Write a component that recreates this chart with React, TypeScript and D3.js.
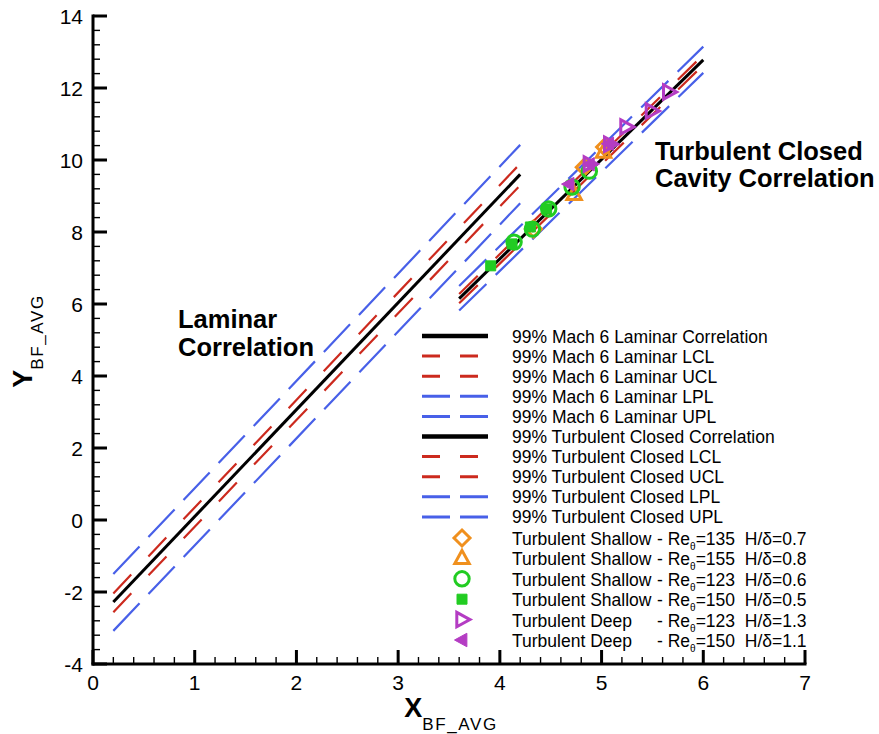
import React from 'react';
import * as d3 from 'd3';

// ---- axis ticks ----
const xTicks = [0, 1, 2, 3, 4, 5, 6, 7];
const yTicks = [-4, -2, 0, 2, 4, 6, 8, 10, 12, 14];

// ---- correlation / interval lines (endpoints) ----
const laminarX = [0.2, 4.2];
const laminarCorr = [-2.28, 9.6];
const laminarLCL = [-2.56, 9.3];
const laminarUCL = [-2.04, 9.9];
const laminarLPL = [-3.08, 8.8];
const laminarUPL = [-1.5, 10.42];

const turbX = [3.6, 6.0];
const turbCorr = [6.15, 12.78];
const turbLCL = [6.02, 12.64];
const turbUCL = [6.28, 12.92];
const turbLPL = [5.82, 12.42];
const turbUPL = [6.5, 13.15];

// ---- data points ----
const shallow135X = [4.33, 4.83, 5.03];
const shallow135Y = [8.08, 9.8, 10.36];
const shallow155X = [4.73, 5.02];
const shallow155Y = [9.05, 10.22];
const shallow123X = [4.14, 4.32, 4.48, 4.71, 4.88];
const shallow123Y = [7.72, 8.08, 8.64, 9.25, 9.69];
const shallow150X = [3.91, 4.12, 4.3, 4.46];
const shallow150Y = [7.06, 7.67, 8.14, 8.64];
const deep123X = [4.88, 5.08, 5.24, 5.49, 5.66];
const deep123Y = [9.89, 10.44, 10.92, 11.36, 11.89];
const deep150X = [4.68, 4.88, 5.07];
const deep150Y = [9.33, 9.88, 10.45];

// ---- legend labels ----
const lineLabels = [
  '99% Mach 6 Laminar Correlation',
  '99% Mach 6 Laminar LCL',
  '99% Mach 6 Laminar UCL',
  '99% Mach 6 Laminar LPL',
  '99% Mach 6 Laminar UPL',
  '99% Turbulent Closed Correlation',
  '99% Turbulent Closed LCL',
  '99% Turbulent Closed UCL',
  '99% Turbulent Closed LPL',
  '99% Turbulent Closed UPL',
];
const pointNames = [
  'Turbulent Shallow',
  'Turbulent Shallow',
  'Turbulent Shallow',
  'Turbulent Shallow',
  'Turbulent Deep',
  'Turbulent Deep',
];
const pointRe = ['135', '155', '123', '150', '123', '150'];
const pointH = ['0.7', '0.8', '0.6', '0.5', '1.3', '1.1'];

const BLACK = '#000000';
const RED = '#cc2a1e';
const BLUE = '#4860e8';
const ORANGE = '#f0901e';
const GREEN = '#22cc22';
const PURPLE = '#b43cc3';
const FONT = '"Liberation Sans", Arial, Helvetica, sans-serif';

type Kind = 'corr' | 'cl' | 'pl';
const lineStyle = (k: Kind, legend: boolean) => {
  if (k === 'corr') return { stroke: BLACK, width: legend ? 4.5 : 3, dash: undefined as string | undefined };
  if (k === 'cl') return { stroke: RED, width: 2.2, dash: legend ? '18,20' : '26,25' };
  return { stroke: BLUE, width: 2.2, dash: legend ? '28,10' : '38,13' };
};

const lineSeries: { xs: number[]; ys: number[]; kind: Kind }[] = [
  { xs: laminarX, ys: laminarLPL, kind: 'pl' },
  { xs: laminarX, ys: laminarUPL, kind: 'pl' },
  { xs: laminarX, ys: laminarLCL, kind: 'cl' },
  { xs: laminarX, ys: laminarUCL, kind: 'cl' },
  { xs: laminarX, ys: laminarCorr, kind: 'corr' },
  { xs: turbX, ys: turbLPL, kind: 'pl' },
  { xs: turbX, ys: turbUPL, kind: 'pl' },
  { xs: turbX, ys: turbLCL, kind: 'cl' },
  { xs: turbX, ys: turbUCL, kind: 'cl' },
  { xs: turbX, ys: turbCorr, kind: 'corr' },
];
const legendKinds: Kind[] = ['corr', 'cl', 'cl', 'pl', 'pl', 'corr', 'cl', 'cl', 'pl', 'pl'];

type Shape = 'diamond' | 'triUp' | 'circle' | 'square' | 'triRight' | 'triLeft';
const markerPath = (s: Shape, cx: number, cy: number): string => {
  switch (s) {
    case 'diamond': {
      const r = 8;
      return `M${cx},${cy - r}L${cx + r},${cy}L${cx},${cy + r}L${cx - r},${cy}Z`;
    }
    case 'triUp': {
      const r = 8;
      return `M${cx},${cy - r}L${cx + r * 0.9},${cy + r * 0.65}L${cx - r * 0.9},${cy + r * 0.65}Z`;
    }
    case 'square': {
      const h = 5;
      return `M${cx - h},${cy - h}h${2 * h}v${2 * h}h${-2 * h}Z`;
    }
    case 'triRight': {
      const r = 8;
      return `M${cx + r},${cy}L${cx - r * 0.65},${cy - r * 0.9}L${cx - r * 0.65},${cy + r * 0.9}Z`;
    }
    case 'triLeft': {
      const r = 7.5;
      return `M${cx - r},${cy}L${cx + r * 0.65},${cy - r * 0.9}L${cx + r * 0.65},${cy + r * 0.9}Z`;
    }
    default:
      return '';
  }
};

const pointSeries: { xs: number[]; ys: number[]; shape: Shape; color: string; filled: boolean }[] = [
  { xs: shallow135X, ys: shallow135Y, shape: 'diamond', color: ORANGE, filled: false },
  { xs: shallow155X, ys: shallow155Y, shape: 'triUp', color: ORANGE, filled: false },
  { xs: shallow123X, ys: shallow123Y, shape: 'circle', color: GREEN, filled: false },
  { xs: shallow150X, ys: shallow150Y, shape: 'square', color: GREEN, filled: true },
  { xs: deep123X, ys: deep123Y, shape: 'triRight', color: PURPLE, filled: false },
  { xs: deep150X, ys: deep150Y, shape: 'triLeft', color: PURPLE, filled: true },
];

const Marker = ({ shape, cx, cy, color, filled }: { shape: Shape; cx: number; cy: number; color: string; filled: boolean }) => {
  if (shape === 'circle') {
    return <circle cx={cx} cy={cy} r={7.2} fill="none" stroke={color} strokeWidth={3} />;
  }
  return (
    <path
      d={markerPath(shape, cx, cy)}
      fill={filled ? color : 'none'}
      stroke={color}
      strokeWidth={filled ? 1 : 3}
      strokeLinejoin="miter"
    />
  );
};

export default function App() {
  const W = 879;
  const H = 734;
  const x = d3.scaleLinear().domain([0, 7]).range([93, 805]);
  const y = d3.scaleLinear().domain([-4, 14]).range([664, 16]);

  const line = d3
    .line<[number, number]>()
    .x((d) => x(d[0]))
    .y((d) => y(d[1]));

  const xMinor = d3.range(0, 7.0001, 0.2).filter((v) => Math.abs(v - Math.round(v)) > 1e-6);
  const yMinor = d3.range(-4, 14.0001, 0.4).filter((v) => Math.abs(v / 2 - Math.round(v / 2)) > 1e-6);

  const legX0 = 422;
  const legX1 = 488;
  const legText = 512;
  const legY0 = 336;
  const legDy = 20.1;
  const mY0 = 538;
  const mDy = 20.4;
  const mX = 462;

  return (
    <svg
      width={W}
      height={H}
      viewBox={`0 0 ${W} ${H}`}
      style={{ position: 'absolute', left: 0, top: 0, background: '#fff' }}
      fontFamily={FONT}
    >
      <rect x={0} y={0} width={W} height={H} fill="#fff" />

      {/* plot lines */}
      {lineSeries.map((s, i) => {
        const st = lineStyle(s.kind, false);
        const pts = s.xs.map((xv, j) => [xv, s.ys[j]] as [number, number]);
        return (
          <path
            key={'l' + i}
            d={line(pts) || ''}
            fill="none"
            stroke={st.stroke}
            strokeWidth={st.width}
            strokeDasharray={st.dash}
          />
        );
      })}

      {/* data markers */}
      {pointSeries.map((s, i) =>
        s.xs.map((xv, j) => (
          <Marker key={`m${i}-${j}`} shape={s.shape} cx={x(xv)} cy={y(s.ys[j])} color={s.color} filled={s.filled} />
        ))
      )}

      {/* axes */}
      <line x1={x(0)} y1={y(-4) + 1.5} x2={x(0)} y2={y(14) - 1.5} stroke="#000" strokeWidth={3} />
      <line x1={x(0) - 1.5} y1={y(-4)} x2={x(7) + 1.5} y2={y(-4)} stroke="#000" strokeWidth={3} />
      {xTicks.map((t) => (
        <line key={'xt' + t} x1={x(t)} x2={x(t)} y1={y(-4)} y2={y(-4) - 14} stroke="#000" strokeWidth={3} />
      ))}
      {xMinor.map((t, i) => (
        <line key={'xm' + i} x1={x(t)} x2={x(t)} y1={y(-4)} y2={y(-4) - 7} stroke="#000" strokeWidth={1.4} />
      ))}
      {yTicks.map((t) => (
        <line key={'yt' + t} x1={x(0)} x2={x(0) + 14} y1={y(t)} y2={y(t)} stroke="#000" strokeWidth={3} />
      ))}
      {yMinor.map((t, i) => (
        <line key={'ym' + i} x1={x(0)} x2={x(0) + 7} y1={y(t)} y2={y(t)} stroke="#000" strokeWidth={1.4} />
      ))}

      {/* tick labels */}
      {xTicks.map((t) => (
        <text key={'xl' + t} x={x(t)} y={690} fontSize={21} textAnchor="middle" fill="#000">
          {t}
        </text>
      ))}
      {yTicks.map((t) => (
        <text key={'yl' + t} x={83} y={y(t) + 7.5} fontSize={21} textAnchor="end" fill="#000">
          {t}
        </text>
      ))}

      {/* axis titles */}
      <text x={451} y={717} textAnchor="middle" fill="#000">
        <tspan fontSize={27} fontWeight="bold">X</tspan>
        <tspan fontSize={17} dy={13} letterSpacing={1.6}>BF_AVG</tspan>
      </text>
      <text transform={`translate(32,341) rotate(-90)`} textAnchor="middle" fill="#000">
        <tspan fontSize={27} fontWeight="bold">Y</tspan>
        <tspan fontSize={17} dy={11} letterSpacing={1.6}>BF_AVG</tspan>
      </text>

      {/* annotations */}
      <text x={178} y={328} fontSize={25.5} fontWeight="bold" fill="#000">Laminar</text>
      <text x={178} y={356} fontSize={25.5} fontWeight="bold" fill="#000">Correlation</text>
      <text x={655} y={160} fontSize={25.5} fontWeight="bold" fill="#000">Turbulent Closed</text>
      <text x={655} y={187} fontSize={25.5} fontWeight="bold" fill="#000">Cavity Correlation</text>

      {/* legend: lines */}
      {lineLabels.map((lab, i) => {
        const kind = legendKinds[i];
        const st = lineStyle(kind, true);
        const cy = legY0 + i * legDy;
        return (
          <g key={'lg' + i}>
            <line x1={legX0} x2={legX1} y1={cy} y2={cy} stroke={st.stroke} strokeWidth={kind === 'corr' ? 4.5 : 3} strokeDasharray={st.dash} />
            <text x={legText} y={cy + 6.5} fontSize={17.5} fill="#000">{lab}</text>
          </g>
        );
      })}

      {/* legend: markers */}
      {pointSeries.map((s, i) => {
        const cy = mY0 + i * mDy;
        return (
          <g key={'pg' + i}>
            <Marker shape={s.shape} cx={mX} cy={cy} color={s.color} filled={s.filled} />
            <text x={legText} y={cy + 7} fontSize={17.5} fill="#000">{pointNames[i]}</text>
            <text x={657} y={cy + 7} fontSize={17.5} fill="#000" style={{ whiteSpace: 'pre' }} xmlSpace="preserve">
              <tspan>- Re</tspan>
              <tspan fontSize={10} dy={5}>θ</tspan>
              <tspan dy={-5}>{`=${pointRe[i]}  H/δ=${pointH[i]}`}</tspan>
            </text>
          </g>
        );
      })}
    </svg>
  );
}
